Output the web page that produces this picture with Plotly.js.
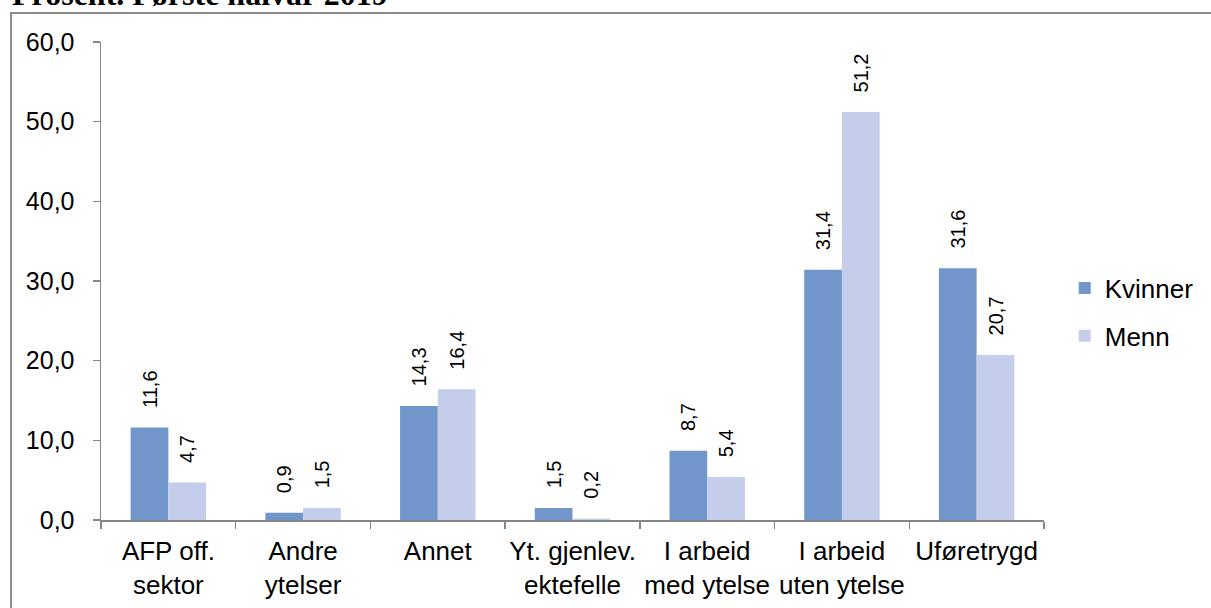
<!DOCTYPE html>
<html>
<head>
<meta charset="utf-8">
<script src="https://cdn.plot.ly/plotly-3.0.1.min.js"></script>
<style>
html,body{margin:0;padding:0;background:#fff;overflow:hidden;}
#wrap{position:relative;width:1211px;height:608px;}
#frame{position:absolute;left:10px;top:12px;width:1300px;height:700px;border:2px solid #8c8c8c;box-sizing:border-box;pointer-events:none;}
#chart{position:absolute;left:0;top:0;width:1211px;height:608px;}
</style>
</head>
<body>
<div id="wrap">
<div id="chart"></div>
<div id="frame"></div>
</div>
<script>
const categories = ["AFP off.<br>sektor", "Andre<br>ytelser", "Annet", "Yt. gjenlev.<br>ektefelle", "I arbeid<br>med ytelse", "I arbeid<br>uten ytelse", "Uføretrygd"];
const kvinner = [11.6, 0.9, 14.3, 1.5, 8.7, 31.4, 31.6];
const menn = [4.7, 1.5, 16.4, 0.2, 5.4, 51.2, 20.7];
const yTicks = [0, 10, 20, 30, 40, 50, 60];
const titleText = "Prosent. Første halvår 2019";

const labelFont = {family: "Liberation Sans, Arial, sans-serif", size: 20, color: "#000"};
const pad = "\u00a0\u00a0\u00a0";
const traces = [
  {type: "bar", name: "Kvinner", x: categories, y: kvinner, legendgroup: "k",
   marker: {color: "#7096CC"}, texttemplate: pad + "%{y:.1f}", textposition: "outside",
   textangle: -90, textfont: labelFont, cliponaxis: false, constraintext: "none"},
  {type: "bar", name: "Menn", x: categories, y: menn, legendgroup: "m",
   marker: {color: "#C4CDEA"}, texttemplate: pad + "%{y:.1f}", textposition: "outside",
   textangle: -90, textfont: labelFont, cliponaxis: false, constraintext: "none"}
];
const layout = {
  width: 1211, height: 608,
  margin: {l: 101, r: 165, t: 42, b: 88, pad: 0},
  paper_bgcolor: "rgba(0,0,0,0)", plot_bgcolor: "rgba(0,0,0,0)",
  separators: ",.",
  font: {family: "Liberation Sans, Arial, sans-serif", size: 25, color: "#000"},
  annotations: [{text: "<b>" + titleText + "</b>", xref: "paper", yref: "paper",
          x: -0.096, xanchor: "left", y: 1.1004, yanchor: "middle", showarrow: false,
          font: {family: "Liberation Serif, Times New Roman, serif", size: 32, color: "#000"}}],
  bargap: 0.44, bargroupgap: 0,
  xaxis: {type: "category", showline: true, linecolor: "#868686", linewidth: 1.5,
          ticks: "outside", tickson: "boundaries", ticklen: 7, tickcolor: "#868686", tickwidth: 1.5,
          tickfont: {size: 26}, tickangle: 0, showgrid: false, zeroline: false, fixedrange: true,
          ticklabelstandoff: 7},
  yaxis: {range: [0, 60], tickvals: yTicks, tickformat: ".1f", showline: true,
          linecolor: "#868686", linewidth: 1.5, ticks: "outside", ticklen: 7,
          tickcolor: "#868686", tickwidth: 1.5, showgrid: false, zeroline: false,
          tickfont: {size: 25}, ticklabelstandoff: 13},
  showlegend: true,
  legend: {x: 1.022, xanchor: "left", y: 0.435, yanchor: "middle",
           traceorder: "grouped", tracegroupgap: 11, font: {size: 26},
           bgcolor: "rgba(0,0,0,0)"}
};
Plotly.newPlot("chart", traces, layout, {staticPlot: true});
</script>
</body>
</html>
